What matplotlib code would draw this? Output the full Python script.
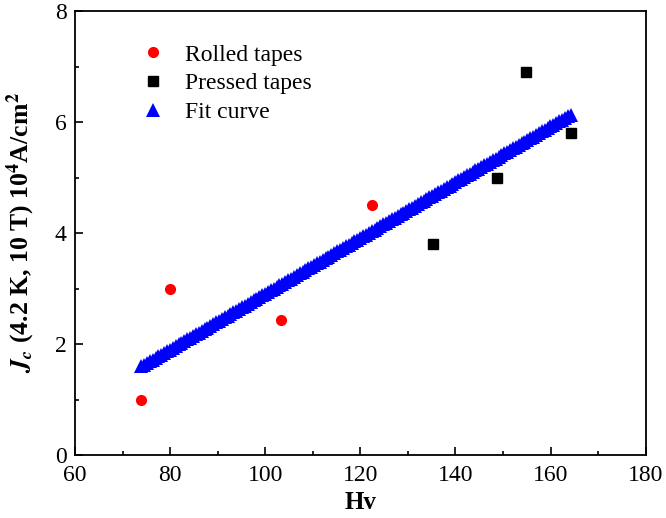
import numpy as np
import matplotlib
matplotlib.use("Agg")
import matplotlib.pyplot as plt
from matplotlib.ticker import MultipleLocator

# data
rolled_hv = [73.9, 80.0, 103.3, 122.4]
rolled_jc = [1.0, 3.0, 2.44, 4.5]
pressed_hv = [135.2, 148.7, 154.8, 164.2]
pressed_jc = [3.8, 5.0, 6.9, 5.8]

# linear fit through all points, drawn as dense triangles
all_hv = np.array(rolled_hv + pressed_hv)
all_jc = np.array(rolled_jc + pressed_jc)
slope, intercept = np.polyfit(all_hv, all_jc, 1)
fit_hv = np.linspace(all_hv.min(), all_hv.max(), 150)
fit_jc = slope * fit_hv + intercept

plt.rcParams["font.family"] = "Liberation Serif"
plt.rcParams["mathtext.fontset"] = "stix"

fig = plt.figure(figsize=(6.66, 5.18), dpi=100)
ax = fig.add_axes([0.1126, 0.1216, 0.857, 0.857])

ax.plot(rolled_hv, rolled_jc, "o", color="red", markersize=7, label="Rolled tapes")
ax.plot(pressed_hv, pressed_jc, "s", color="black", markersize=6.5, label="Pressed tapes")
ax.plot(fit_hv, fit_jc, "^", color="blue", markersize=9.5, markeredgewidth=0, label="Fit curve")

ax.set_xlim(60, 180)
ax.set_ylim(0, 8)
ax.xaxis.set_major_locator(MultipleLocator(20))
ax.xaxis.set_minor_locator(MultipleLocator(10))
ax.yaxis.set_major_locator(MultipleLocator(2))
ax.yaxis.set_minor_locator(MultipleLocator(1))
ax.tick_params(which="both", direction="in", top=False, right=False, labelsize=17, width=1.2)
ax.tick_params(axis="x", pad=7)
ax.tick_params(axis="y", pad=6)
ax.tick_params(which="major", length=6)
ax.tick_params(which="minor", length=3)
for s in ax.spines.values():
    s.set_linewidth(1.3)

ax.set_xlabel("Hv", fontsize=18, fontweight="bold", labelpad=4)
ax.set_ylabel(r"$\mathbfit{J}_{\mathbfit{c}}$ (4.2 K, 10 T) 10$^{\mathbf{4}}$A/cm$^{\mathbf{2}}$",
              fontsize=18.5, fontweight="bold")
ax.yaxis.set_label_coords(-0.066, 0.5)

ax.legend(loc="upper left", frameon=False, fontsize=17, handlelength=2.0, handletextpad=0.35,
          labelspacing=0.3, bbox_to_anchor=(0.079, 0.947), borderaxespad=0)

fig.savefig("out.png", dpi=100)
